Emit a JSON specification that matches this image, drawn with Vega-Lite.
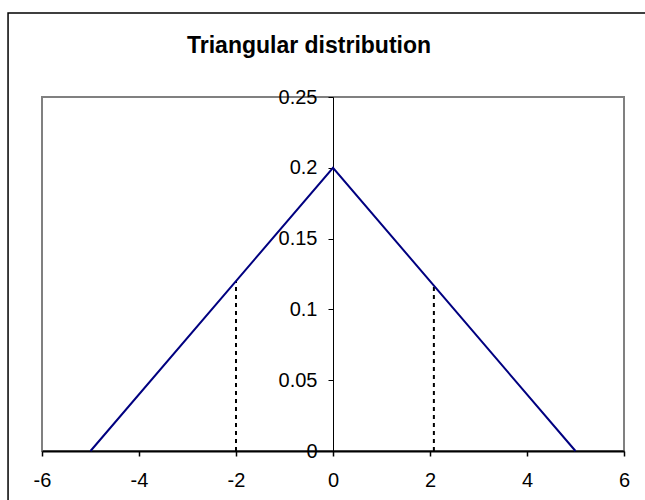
{
  "$schema": "https://vega.github.io/schema/vega-lite/v6.json",
  "width": 582,
  "height": 354,
  "autosize": {"type": "none"},
  "padding": {"left": 42, "top": 97, "right": 21, "bottom": 49},
  "background": "white",
  "title": {
    "text": "Triangular distribution",
    "font": "Liberation Sans",
    "fontSize": 23,
    "fontWeight": "bold",
    "color": "black",
    "anchor": "middle",
    "dx": -24,
    "offset": -46
  },
  "config": {
    "view": {"stroke": "#808080", "strokeWidth": 2},
    "axis": {
      "labelFont": "Liberation Sans",
      "labelFontSize": 20,
      "labelColor": "black",
      "grid": false,
      "domainColor": "black",
      "tickColor": "black",
      "labelFlush": false,
      "labelOverlap": false,
      "labelBound": false
    }
  },
  "datasets": {
    "tri": [
      {"x": -5, "y": 0},
      {"x": 0, "y": 0.2},
      {"x": 5, "y": 0}
    ],
    "marks": [
      {"x": -2, "y0": 0, "y": 0.12},
      {"x": 2.08, "y0": 0, "y": 0.117}
    ],
    "frame": [
      {"x": -6.7, "x2": 6.6, "y": -0.05, "y2": 0.3093}
    ]
  },
  "layer": [
    {
      "data": {"name": "frame"},
      "mark": {"type": "rect", "filled": false, "stroke": "black", "strokeWidth": 1.5, "clip": false},
      "encoding": {
        "x": {"field": "x", "type": "quantitative", "scale": {"domain": [-6, 6], "nice": false}, "axis": {"values": [-6, -4, -2, 0, 2, 4, 6], "title": null, "domainWidth": 2, "tickSize": 5, "tickWidth": 1.5, "labelPadding": 14, "format": "d", "labelExpr": "replace(datum.label, '\u2212', '-')"}},
        "x2": {"field": "x2"},
        "y": {"field": "y", "type": "quantitative", "scale": {"domain": [0, 0.25], "nice": false}, "axis": {"values": [0, 0.05, 0.1, 0.15, 0.2, 0.25], "title": null, "offset": -291, "tickSize": 5, "labelPadding": 11, "domainWidth": 1, "format": "~g"}},
        "y2": {"field": "y2"}
      }
    },
    {
      "data": {"name": "marks"},
      "mark": {"type": "rule", "color": "black", "strokeWidth": 2, "strokeDash": [4, 4]},
      "encoding": {
        "x": {"field": "x", "type": "quantitative"},
        "y": {"field": "y0", "type": "quantitative"},
        "y2": {"field": "y"}
      }
    },
    {
      "data": {"name": "tri"},
      "mark": {"type": "line", "color": "#000080", "strokeWidth": 2},
      "encoding": {
        "x": {"field": "x", "type": "quantitative"},
        "y": {"field": "y", "type": "quantitative"}
      }
    }
  ]
}
